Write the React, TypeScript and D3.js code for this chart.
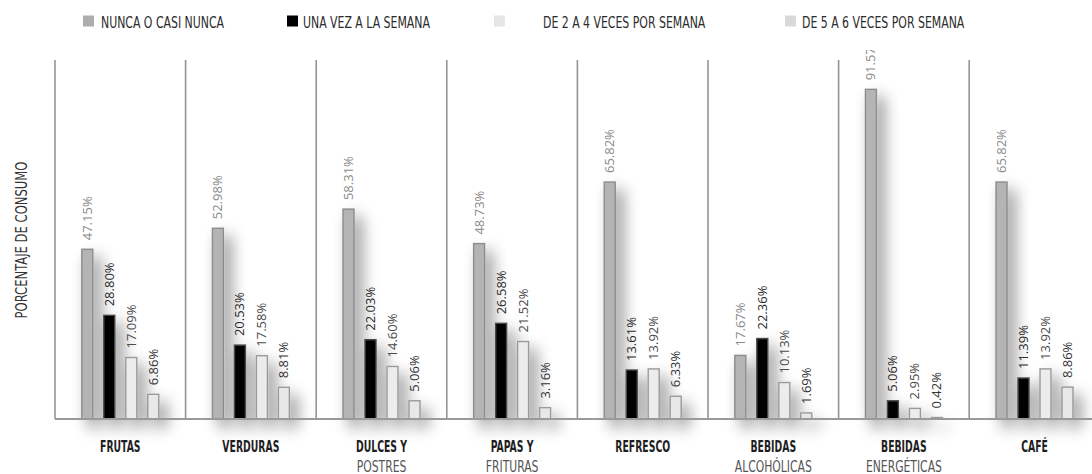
import React from "react";
import * as d3 from "d3";

// Consumption frequency by food / drink category (% of respondents)
const categories: string[][] = [
  ["FRUTAS"],
  ["VERDURAS"],
  ["DULCES Y", "POSTRES"],
  ["PAPAS Y", "FRITURAS"],
  ["REFRESCO"],
  ["BEBIDAS", "ALCOHÓLICAS"],
  ["BEBIDAS", "ENERGÉTICAS"],
  ["CAFÉ"],
];

const seriesNames = [
  "NUNCA O CASI NUNCA",
  "UNA VEZ A LA SEMANA",
  "DE 2 A 4 VECES POR SEMANA",
  "DE 5 A 6 VECES POR SEMANA",
];

const nunca = [47.15, 52.98, 58.31, 48.73, 65.82, 17.67, 91.57, 65.82];
const unaVez = [28.8, 20.53, 22.03, 26.58, 13.61, 22.36, 5.06, 11.39];
const dosACuatro = [17.09, 17.58, 14.6, 21.52, 13.92, 10.13, 2.95, 13.92];
const cincoASeis = [6.86, 8.81, 5.06, 3.16, 6.33, 1.69, 0.42, 8.86];

const seriesValues = [nunca, unaVez, dosACuatro, cincoASeis];

const yAxisTitle = "PORCENTAJE DE CONSUMO";

// Visual styling per series
const fills = ["#b4b4b4", "#050505", "#ececec", "#e8e8e8"];
const strokes = ["#8c8c8c", "#4a4a4a", "#9a9a9a", "#9a9a9a"];
const legendFills = ["#adadad", "#000000", "#e6e6e6", "#d9d9d9"];
const labelColors = ["#8a8a8a", "#2a2a2a", "#4a4a4a", "#333333"];

const W = 1092;
const H = 474;
const baseY = 419;
const topY = 59;

const narrow = "'DejaVu Sans Condensed', 'DejaVu Sans', sans-serif";
const valueFont = "'Open Sans', 'DejaVu Sans', sans-serif";

// Legend layout: square x, text x
const legendLayout = [
  [83, 101],
  [287, 303],
  [494, 543],
  [785, 802],
];

export default function App() {
  const groupScale = d3
    .scaleBand<number>()
    .domain(d3.range(categories.length))
    .range([55, 55 + 130.6 * categories.length])
    .paddingInner(0)
    .paddingOuter(0);

  const barScale = d3
    .scaleBand<number>()
    .domain(d3.range(seriesValues.length))
    .range([0, groupScale.bandwidth()])
    .paddingInner(0.5)
    .paddingOuter(1.22)
    .align(0.5);

  const y = d3.scaleLinear().domain([0, 100]).range([baseY, topY]);

  return (
    <svg
      width={W}
      height={H}
      style={{ position: "absolute", left: 0, top: 0, background: "#fff" }}
    >
      <defs>
        <filter id="barShadow" x="-60%" y="-20%" width="280%" height="170%">
          <feGaussianBlur in="SourceAlpha" stdDeviation="8" result="blur" />
          <feOffset in="blur" dx="7" dy="8" result="off" />
          <feComponentTransfer in="off" result="shadow">
            <feFuncA type="linear" slope="0.45" />
          </feComponentTransfer>
          <feMerge>
            <feMergeNode in="shadow" />
            <feMergeNode in="SourceGraphic" />
          </feMerge>
        </filter>
        <clipPath id="plotClip">
          <rect x={0} y={50} width={W} height={H - 50} />
        </clipPath>
      </defs>

      {/* legend */}
      {seriesNames.map((name, i) => (
        <g key={name}>
          <rect
            x={legendLayout[i][0]}
            y={15.5}
            width={11}
            height={11}
            fill={legendFills[i]}
          />
          <text
            transform={`translate(${legendLayout[i][1]},27.5) scale(0.81,1)`}
            fontFamily={narrow}
            fontSize={15}
            fill="#2b2b2b"
          >
            {name}
          </text>
        </g>
      ))}

      {/* y axis title */}
      <text
        transform={`translate(27,240) rotate(-90) scale(0.86,1)`}
        textAnchor="middle"
        fontFamily={narrow}
        fontSize={15}
        fill="#333"
      >
        {yAxisTitle}
      </text>

      {/* bars with soft shadow */}
      {categories.map((_, g) => (
        <g
          key={"bars" + g}
          transform={`translate(${groupScale(g)},0)`}
          filter="url(#barShadow)"
        >
          {seriesValues.map((vals, s) => (
            <rect
              key={s}
              x={barScale(s)}
              y={y(vals[g])}
              width={barScale.bandwidth()}
              height={baseY - y(vals[g])}
              fill={fills[s]}
              stroke={strokes[s]}
              strokeWidth={1.4}
            />
          ))}
        </g>
      ))}

      {/* group dividers and baseline */}
      {categories.map((_, g) => (
        <line
          key={"div" + g}
          x1={groupScale(g)}
          x2={groupScale(g)}
          y1={topY + 1}
          y2={baseY}
          stroke="#959595"
          strokeWidth={1.6}
        />
      ))}
      <line
        x1={groupScale(0)}
        x2={W}
        y1={baseY}
        y2={baseY}
        stroke="#9a9a9a"
        strokeWidth={2}
      />

      {/* value labels */}
      <g clipPath="url(#plotClip)">
        {categories.map((_, g) =>
          seriesValues.map((vals, s) => {
            const cx = (groupScale(g) as number) + (barScale(s) as number) + barScale.bandwidth() / 2;
            return (
              <text
                key={`lbl${g}-${s}`}
                transform={`translate(${cx + 4.5},${y(vals[g]) - 9}) rotate(-90)`}
                fontFamily={valueFont}
                fontSize={13}
                fill={labelColors[s]}
              >
                {vals[g].toFixed(2)}%
              </text>
            );
          })
        )}
      </g>

      {/* category labels */}
      {categories.map((lines, g) => {
        const cx = (groupScale(g) as number) + groupScale.bandwidth() / 2;
        return (
          <g key={"cat" + g}>
            {lines.map((t, li) => (
              <text
                key={li}
                transform={`translate(${cx},${li === 0 ? 452 : 472}) scale(${li === 0 ? 0.69 : 0.8},1)`}
                textAnchor="middle"
                fontFamily={narrow}
                fontSize={15}
                fontWeight={li === 0 ? 700 : 400}
                fill={li === 0 ? "#1e1e1e" : "#555"}
              >
                {t}
              </text>
            ))}
          </g>
        );
      })}
    </svg>
  );
}
